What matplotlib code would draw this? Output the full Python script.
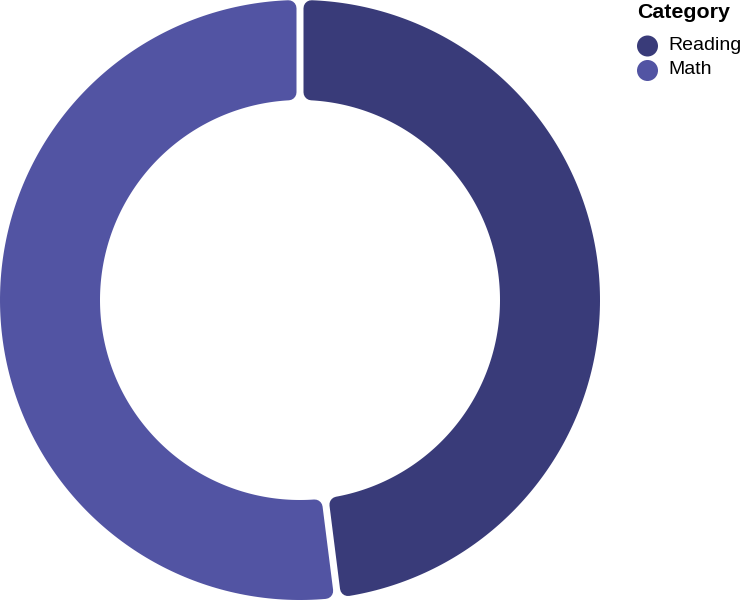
import numpy as np
import matplotlib
matplotlib.use('Agg')
import matplotlib.pyplot as plt
from matplotlib.patches import Polygon, Circle

# data
categories = ['Reading', 'Math']
values = [48, 52]
colors = ['#393b79', '#5254a3']
legend_title = 'Category'

plt.rcParams['font.family'] = ['Liberation Sans', 'DejaVu Sans']

W, H = 744, 600
fig = plt.figure(figsize=(W / 100, H / 100), dpi=100)
ax = fig.add_axes([0, 0, 1, 1])
ax.set_xlim(0, W)
ax.set_ylim(H, 0)
ax.set_aspect('equal')
ax.axis('off')

cx, cy = 300, 300
r_out, r_in = 300, 200
corner = 8      # corner radius, px
half_gap = 3.5  # half of the gap between slices, px


def pt(rho, phi):
    # phi: clockwise from 12 o'clock, y axis points down
    return (cx + rho * np.sin(phi), cy - rho * np.cos(phi))


def rounded_sector(a0, a1, color):
    ro = r_out - corner
    ri = r_in + corner
    d = half_gap + corner
    so = np.arcsin(d / ro)
    si = np.arcsin(d / ri)
    outer = [pt(ro, t) for t in np.linspace(a0 + so, a1 - so, 200)]
    inner = [pt(ri, t) for t in np.linspace(a1 - si, a0 + si, 200)]
    poly = Polygon(outer + inner, closed=True, facecolor=color, edgecolor=color,
                   linewidth=2 * corner * 72 / 100, joinstyle='round')
    ax.add_patch(poly)


total = float(sum(values))
start = 0.0
for v, c in zip(values, colors):
    span = 2 * np.pi * v / total
    rounded_sector(start, start + span, c)
    start += span

# legend
ax.text(637, 17.5, legend_title, fontsize=15.4, fontweight='bold', color='#000000', va='baseline', ha='left')
for i, (lab, c) in enumerate(zip(categories, colors)):
    y = 46 + i * 24.5
    ax.add_patch(Circle((647.5, y), 10.5, facecolor=c, edgecolor='none'))
    ax.text(668, y + 3.5, lab, fontsize=14, color='#000000', va='baseline', ha='left')

fig.savefig('out.png', dpi=100)
